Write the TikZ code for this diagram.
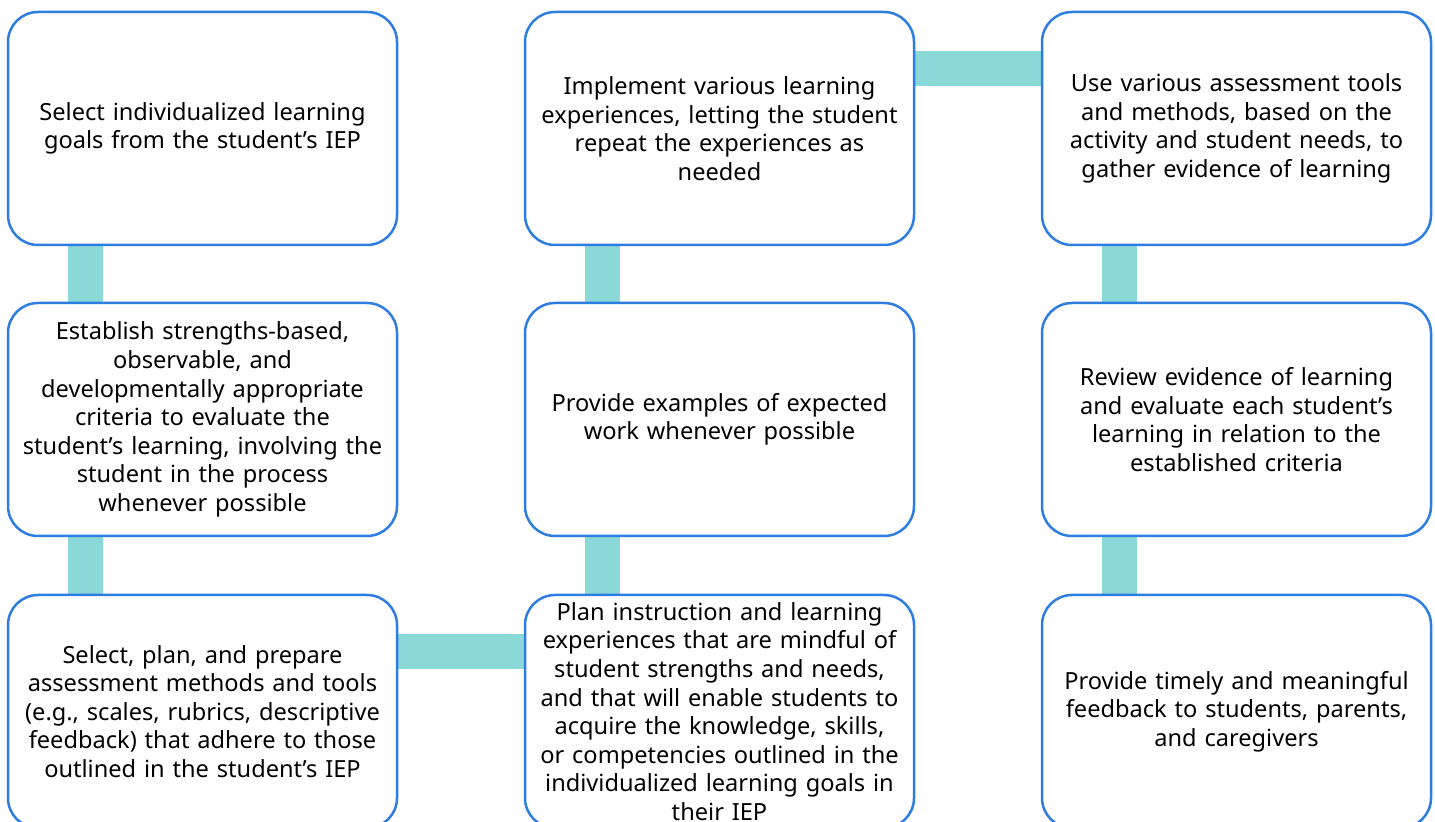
\documentclass[tikz,border=0pt]{standalone}
\usepackage{fontspec}
\setmainfont{Noto Sans}
\usepackage{xcolor}
\usetikzlibrary{backgrounds}
\definecolor{boxblue}{HTML}{2E7DE1}
\definecolor{linkteal}{HTML}{8AD8D8}

\begin{document}
\begin{tikzpicture}[x=0.5pt, y=-0.5pt,
    stepbox/.style={draw=boxblue, line width=1.25pt, fill=white, rounded corners=15pt,
        minimum width=194.5pt, minimum height=116.5pt, inner sep=0pt,
        text width=192pt, align=center,
        font=\fontsize{11.8pt}{14.3pt}\selectfont},
    link/.style={draw=linkteal, line width=17.5pt}]
            \useasboundingbox (0,0) rectangle (1435,822);

            % left column
            \node[stepbox] (goals)    at (202.5, 128.5) {Select individualized learning\\goals from the student’s IEP};
            \node[stepbox] (criteria) at (202.5, 419.5) {Establish strengths-based,\\observable, and\\developmentally appropriate\\criteria to evaluate the\\student’s learning, involving the\\student in the process\\whenever possible};
            \node[stepbox] (tools)    at (202.5, 711.5) {Select, plan, and prepare\\assessment methods and tools\\(e.g., scales, rubrics, descriptive\\feedback) that adhere to those\\outlined in the student’s IEP};

            % middle column
            \node[stepbox] (plan)     at (719.5, 711.5) {Plan instruction and learning\\experiences that are mindful of\\student strengths and needs,\\and that will enable students to\\acquire the knowledge, skills,\\or competencies outlined in the\\individualized learning goals in\\their IEP};
            \node[stepbox] (examples) at (719.5, 419.5) {Provide examples of expected\\work whenever possible};
            \node[stepbox] (implement) at (719.5, 128.5) {Implement various learning\\experiences, letting the student\\repeat the experiences as\\needed};

            % right column
            \node[stepbox] (gather)   at (1236.5, 128.5) {Use various assessment tools\\and methods, based on the\\activity and student needs, to\\gather evidence of learning};
            \node[stepbox] (review)   at (1236.5, 419.5) {Review evidence of learning\\and evaluate each student’s\\learning in relation to the\\established criteria};
            \node[stepbox] (feedback) at (1236.5, 711.5) {Provide timely and meaningful\\feedback to students, parents,\\and caregivers};

            \begin{scope}[on background layer]
            \draw[link] ([xshift=39.5pt]goals.south west) -- ([xshift=39.5pt]criteria.north west);
            \draw[link] ([xshift=39.5pt]criteria.south west) -- ([xshift=39.5pt]tools.north west);
            \draw[link] ([yshift=-28.75pt]tools.north east) -- ([yshift=-28.75pt]plan.north west);
            \draw[link] ([xshift=39.5pt]plan.north west) -- ([xshift=39.5pt]examples.south west);
            \draw[link] ([xshift=39.5pt]examples.north west) -- ([xshift=39.5pt]implement.south west);
            \draw[link] ([yshift=-28.75pt]implement.north east) -- ([yshift=-28.75pt]gather.north west);
            \draw[link] ([xshift=39.5pt]gather.south west) -- ([xshift=39.5pt]review.north west);
            \draw[link] ([xshift=39.5pt]review.south west) -- ([xshift=39.5pt]feedback.north west);
            \end{scope}
        \end{tikzpicture}
\end{document}
